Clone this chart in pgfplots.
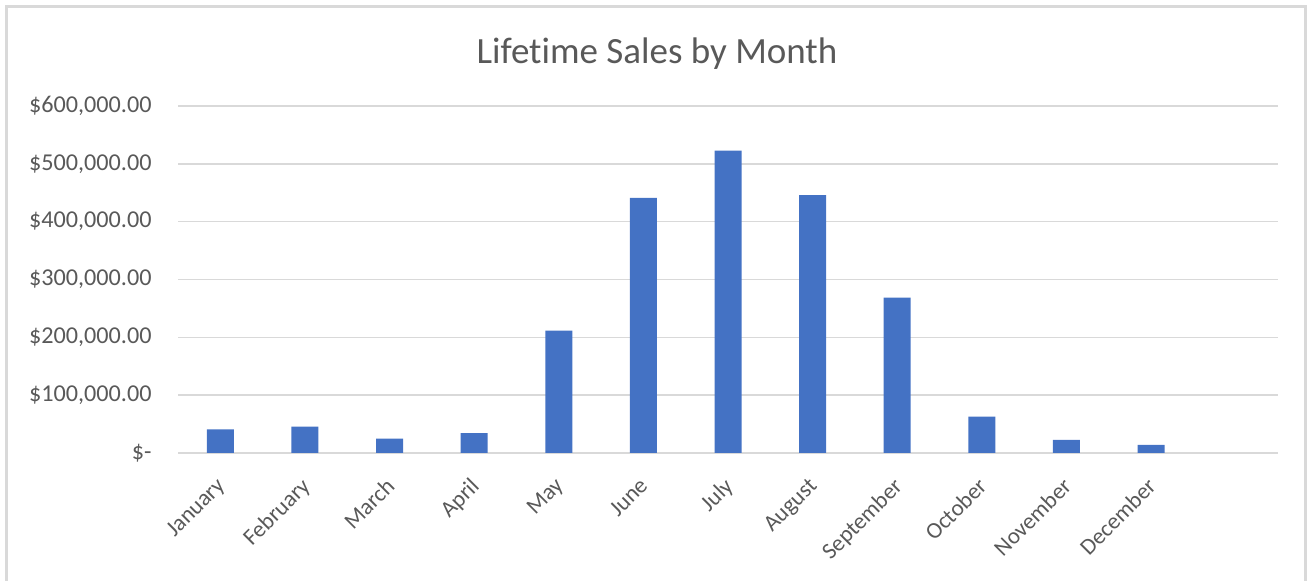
\documentclass[border=0pt]{standalone}
\usepackage{pgfplots}
\pgfplotsset{compat=1.18}
\usepackage{fontspec}
\setmainfont[Ligatures=CommonOff]{Carlito}
\definecolor{barblue}{HTML}{4472C4}
\definecolor{txtgray}{HTML}{595959}
\definecolor{gridgray}{HTML}{D9D9D9}
\definecolor{framegray}{HTML}{D9D9D9}
\begin{document}
\begin{tikzpicture}
\useasboundingbox (0,0) rectangle (653.5pt,290.5pt);
\draw[framegray, line width=1.2pt] (3.3pt,-2pt) -- (3.3pt,287.2pt) -- (652.8pt,287.2pt) -- (652.8pt,-2pt);
\node[anchor=base, text=txtgray, font=\fontsize{18.5pt}{22pt}\selectfont] at (328.5pt,258.9pt) {Lifetime Sales by Month};
\begin{axis}[
  at={(89pt,64pt)}, anchor=south west,
  scale only axis, width=550pt, height=173.5pt,
  xmin=-0.5, xmax=12.5, ymin=0, ymax=600000,
  scaled y ticks=false,
  axis x line*=bottom, axis y line*=left,
  x axis line style={-, draw=gridgray, line width=0.9pt},
  y axis line style={draw=none},
  major tick length=0pt,
  ymajorgrids, grid style={gridgray, line width=0.8pt},
  ytick={0,100000,200000,300000,400000,500000,600000},
  yticklabels={{\$-\hspace{5pt}},{\$100,000.00},{\$200,000.00},{\$300,000.00},{\$400,000.00},{\$500,000.00},{\$600,000.00}},
  xtick={0,1,2,3,4,5,6,7,8,9,10,11},
  xticklabels={January,February,March,April,May,June,July,August,September,October,November,December},
  yticklabel style={anchor=east, inner sep=0pt, xshift=-13pt, text=txtgray, font=\fontsize{12.1pt}{14pt}\selectfont},
  xticklabel style={xshift=-2.5pt, yshift=-11.5pt, rotate=45, anchor=north east, inner sep=0pt, text=txtgray, font=\fontsize{11.5pt}{13pt}\selectfont},
  ybar, bar width=13.5pt,
  clip=false,
]
\addplot[fill=barblue, draw=none] coordinates {
  (0,40700) (1,45400) (2,25000) (3,34300) (4,211500) (5,441000)
  (6,523000) (7,446000) (8,268500) (9,62800) (10,22700) (11,14000)
};
\end{axis}
\end{tikzpicture}
\end{document}
